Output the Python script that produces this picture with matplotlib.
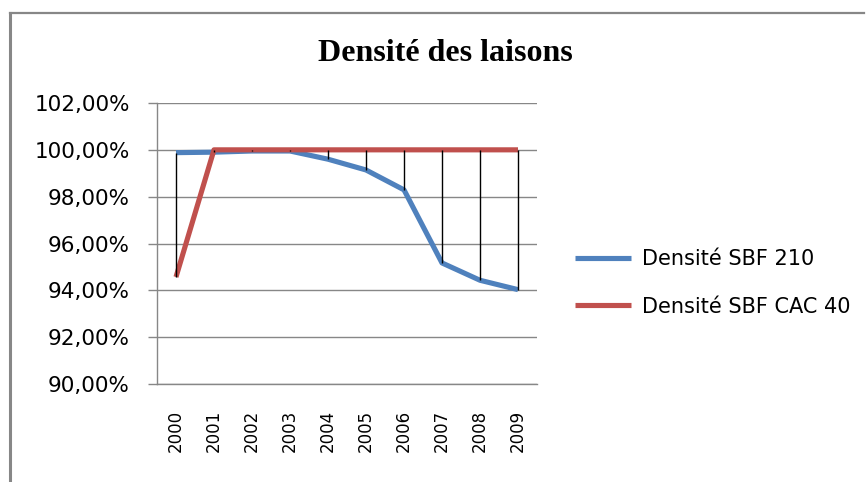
import numpy as np
from matplotlib import pyplot as plt
from matplotlib.lines import Line2D
from matplotlib.ticker import FuncFormatter

# Data
years = ["2000", "2001", "2002", "2003", "2004", "2005", "2006", "2007", "2008", "2009"]
sbf_210 = [99.88, 99.90, 99.95, 99.95, 99.60, 99.14, 98.29, 95.17, 94.43, 94.03]
sbf_cac40 = [94.57, 100.0, 100.0, 100.0, 100.0, 100.0, 100.0, 100.0, 100.0, 100.0]
series_names = ["Densité SBF 210", "Densité SBF CAC 40"]

W, H = 866, 482
fig = plt.figure(figsize=(W / 100, H / 100), dpi=100)

# Chart frame (cut off at the right and bottom)
grey = "#878787"
fig.add_artist(Line2D([9.5 / W, 9.5 / W], [0, 1 - 13 / H], color=grey, lw=2.2,
                      transform=fig.transFigure))
fig.add_artist(Line2D([9.5 / W, 1 - 2 / W], [1 - 13 / H, 1 - 13 / H], color=grey, lw=1.6,
                      transform=fig.transFigure))

ax = fig.add_axes([157 / W, 1 - 384 / H, (537 - 157) / W, (384 - 103) / H])

x = np.arange(len(years))
blue = "#4F81BD"
red = "#C0504D"

ax.plot(x, sbf_210, color=blue, lw=3.7, solid_capstyle="butt", zorder=3, label=series_names[0])
ax.plot(x, sbf_cac40, color=red, lw=3.7, solid_capstyle="butt", zorder=4, label=series_names[1])

# High-low lines
lows = np.minimum(sbf_210, sbf_cac40)
highs = np.maximum(sbf_210, sbf_cac40)
ax.vlines(x, lows, highs, color="black", lw=1.0, zorder=5)

ax.set_xlim(-0.5, len(years) - 0.5)
ax.set_ylim(90, 102)
ax.set_yticks(np.arange(90, 102.1, 2))
ax.yaxis.set_major_formatter(FuncFormatter(lambda v, p: f"{v:.2f}%".replace(".", ",")))
ax.set_xticks(x)
ax.set_xticklabels(years, rotation=90)

ax.grid(axis="y", color=grey, lw=1.0)
ax.set_axisbelow(True)
for side in ["top", "right"]:
    ax.spines[side].set_visible(False)
for side in ["left", "bottom"]:
    ax.spines[side].set_color(grey)
    ax.spines[side].set_linewidth(1.0)

ax.tick_params(axis="y", length=6.5, width=1.0, color=grey, pad=13, labelsize=15.5)
ax.tick_params(axis="x", length=0, pad=18.5, labelsize=12)
for lab in ax.get_xticklabels() + ax.get_yticklabels():
    lab.set_fontfamily("DejaVu Sans")

fig.text(445 / W, 1 - 61 / H, "Densité des laisons", ha="center", va="baseline",
         fontsize=23, fontweight="bold", family="Liberation Serif")

ax.legend(loc="center left", bbox_to_anchor=(556 / W, 1 - 283 / H),
          bbox_transform=fig.transFigure, frameon=False, fontsize=15,
          handlelength=2.7, labelspacing=1.3, handletextpad=0.53)

fig.savefig("out.png", dpi=100)
